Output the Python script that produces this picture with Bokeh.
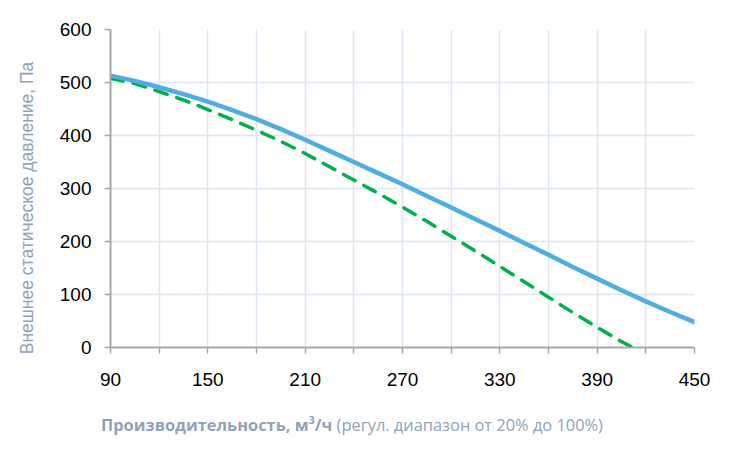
from bokeh.plotting import figure
from bokeh.models import Range1d, FixedTicker, Div
from bokeh.layouts import column
from bokeh.embed import file_html
from bokeh.resources import INLINE

# data
flow_blue = [90, 105, 120, 135, 150, 165, 180, 195, 210, 225, 240, 255, 270, 285,
             300, 315, 330, 345, 360, 375, 390, 405, 420, 435, 450]
pressure_blue = [513, 503, 491, 478, 464, 448, 431, 412, 392, 371, 350, 329, 308, 286,
                 264, 242, 220, 197, 175, 152, 130, 108, 87, 67, 48]
flow_green = [90, 105, 120, 135, 150, 165, 180, 195, 210, 225, 240, 255, 270, 285,
              300, 315, 330, 345, 360, 375, 390, 405, 412]
pressure_green = [508, 498, 483, 467, 449, 430, 410, 389, 366, 341, 316, 291, 265, 238,
                  210, 182, 153, 124, 95, 66, 38, 11, 0]
x_ticks = [90, 120, 150, 180, 210, 240, 270, 300, 330, 360, 390, 420, 450]
x_tick_labels = {90: "90", 150: "150", 210: "210", 270: "270", 330: "330", 390: "390", 450: "450"}
y_ticks = [0, 100, 200, 300, 400, 500, 600]

y_title = "Внешнее статическое давление, Па"
x_title_bold = "Производительность, м"
x_title_sup = "3"
x_title_bold2 = "/ч"
x_title_regular = "(регул. диапазон от 20% до 100%)"

GRID = "#DCE6F2"
AXIS = "#A6A6A6"
LABEL_COL = "#8FA2B6"

p = figure(output_backend="svg", toolbar_location=None,
           frame_width=584, frame_height=318,
           min_border_left=110, min_border_right=30,
           min_border_top=29, min_border_bottom=50,
           x_range=Range1d(90, 450), y_range=Range1d(0, 600))
p.outline_line_color = None
p.background_fill_color = "white"

p.xaxis.ticker = FixedTicker(ticks=x_ticks)
overrides = {}
for t in x_ticks:
    overrides[t] = x_tick_labels.get(t, "")
p.xaxis.major_label_overrides = overrides
p.yaxis.ticker = FixedTicker(ticks=y_ticks)

for ax in (p.xaxis, p.yaxis):
    ax.axis_line_color = AXIS
    ax.axis_line_width = 2
    ax.major_tick_line_color = AXIS
    ax.major_tick_line_width = 1.5
    ax.major_tick_in = 0
    ax.major_tick_out = 6
    ax.minor_tick_line_color = None
    ax.major_label_text_font = "Liberation Sans"
    ax.major_label_text_font_size = "19px"
    ax.major_label_text_color = "black"

p.xaxis.major_label_standoff = 19
p.yaxis.major_label_standoff = 13

# trailing no-break spaces shift the label's visible text downward, as in the reference
p.yaxis.axis_label = y_title + "\u00A0" * 8
p.yaxis.axis_label_text_font = "Liberation Sans"
p.yaxis.axis_label_text_font_size = "17.5px"
p.yaxis.axis_label_text_font_style = "normal"
p.yaxis.axis_label_text_color = LABEL_COL
p.yaxis.axis_label_standoff = 20

p.xgrid.grid_line_color = GRID
p.ygrid.grid_line_color = GRID
p.xgrid.grid_line_width = 1.5
p.ygrid.grid_line_width = 1.5

p.line(flow_green, pressure_green, line_color="#00B050", line_width=3.5,
       line_dash="13 10", line_cap="round")
p.line(flow_blue, pressure_blue, line_color="#4FADE2", line_width=4.5, line_cap="round")

html = ('<span style="font-weight:bold">%s<sup style="font-size:11px;vertical-align:7px;'
        'line-height:0">%s</sup>%s</span> %s') % (x_title_bold, x_title_sup, x_title_bold2,
                                                  x_title_regular)
div = Div(text=html, width=724, height=50, margin=(0, 0, 0, 0),
          styles={"font-family": "Open Sans", "font-size": "16.4px", "color": LABEL_COL,
                  "line-height": "20px", "padding-top": "18px", "padding-left": "101px",
                  "white-space": "nowrap"})

layout = column(p, div, spacing=0)
open("out.html", "w").write(file_html(layout, INLINE))
